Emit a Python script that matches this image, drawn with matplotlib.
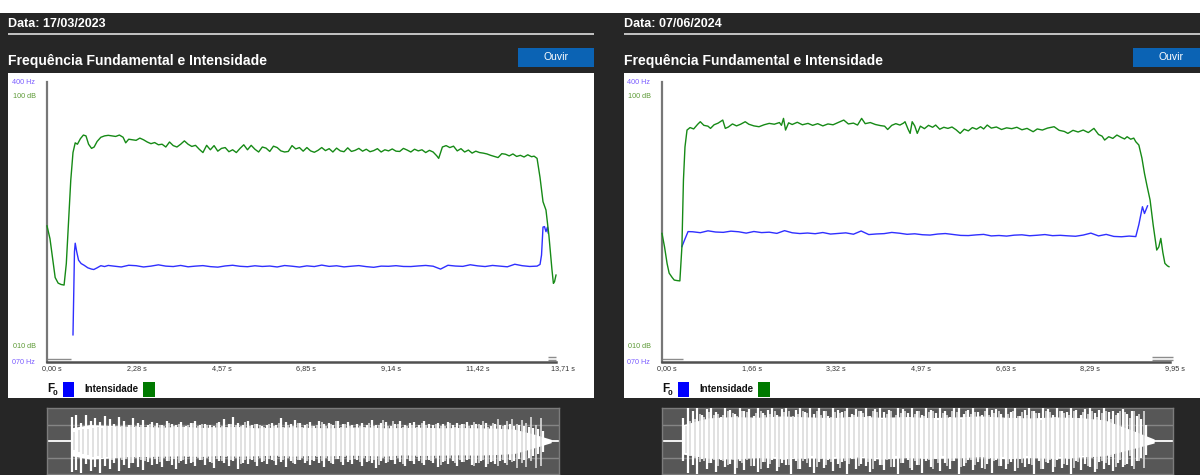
import numpy as np
import matplotlib
matplotlib.use("Agg")
import matplotlib.pyplot as plt
from matplotlib.patches import Rectangle
from matplotlib.transforms import ScaledTranslation

plt.rcParams['font.family'] = ['Liberation Sans', 'DejaVu Sans']

# ------------------------------------------------------------------ data
dates = ["Data: 17/03/2023", "Data: 07/06/2024"]
title = "Frequência Fundamental e Intensidade"
button_label = "Ouvir"
durations = [13.71, 9.95]
xtick_labels_left = ["0,00 s", "2,28 s", "4,57 s", "6,85 s", "9,14 s", "11,42 s", "13,71 s"]
xtick_labels_right = ["0,00 s", "1,66 s", "3,32 s", "4,97 s", "6,63 s", "8,29 s", "9,95 s"]
hz_range = [70, 400]
db_range = [10, 100]
hz_labels = ["070 Hz", "400 Hz"]
db_labels = ["010 dB", "100 dB"]
legend_f0 = "F"
legend_int = "Intensidade"

# Intensity (dB) - left recording
int_left_t = [0.00, 0.08, 0.15, 0.22, 0.30, 0.38, 0.46, 0.52, 0.58, 0.64, 0.70, 0.76, 0.82, 0.90, 0.98,
              1.05, 1.12, 1.20, 1.27, 1.35, 1.45, 1.55, 1.65, 1.75, 1.85, 1.95, 2.05, 2.12, 2.20, 2.30,
              2.40, 2.50, 2.60, 2.70, 2.80, 2.90, 3.00, 3.10, 3.20, 3.30, 3.40, 3.50, 3.60, 3.70, 3.80,
              3.90, 4.00, 4.10, 4.20, 4.30, 4.40, 4.50, 4.60, 4.70, 4.80, 4.90, 5.00, 5.10, 5.20, 5.30,
              5.40, 5.50, 5.60, 5.70, 5.80, 5.90, 6.00, 6.10, 6.20, 6.30, 6.40, 6.50, 6.60, 6.70, 6.80,
              6.90, 7.00, 7.10, 7.20, 7.30, 7.40, 7.50, 7.60, 7.70, 7.80, 7.90, 8.00, 8.10, 8.20, 8.30,
              8.40, 8.50, 8.60, 8.70, 8.80, 8.90, 9.00, 9.10, 9.20, 9.30, 9.40, 9.50, 9.60, 9.70, 9.80,
              9.90, 10.00, 10.10, 10.20, 10.30, 10.40, 10.50, 10.55, 10.65, 10.75, 10.85, 10.95, 11.05,
              11.15, 11.25, 11.35, 11.45, 11.55, 11.65, 11.75, 11.85, 11.95, 12.05, 12.15, 12.25, 12.35,
              12.45, 12.55, 12.65, 12.75, 12.85, 12.95, 13.05, 13.12, 13.20, 13.28, 13.36, 13.44, 13.52,
              13.60, 13.64, 13.67, 13.71]
int_left_db = [53.6, 49.0, 42.0, 35.0, 33.0, 32.5, 32.3, 40.0, 55.0, 70.0, 80.0, 83.5, 83.0, 85.0, 86.3,
               86.0, 83.0, 81.5, 82.0, 84.0, 85.5, 86.0, 86.2, 86.0, 85.8, 86.3, 85.5, 83.5, 84.8, 84.6,
               84.4, 85.2, 84.6, 83.8, 83.2, 83.6, 82.8, 83.0, 82.0, 83.8, 82.5, 82.0, 83.0, 84.2, 83.0,
               82.2, 82.6, 81.2, 80.0, 82.6, 81.0, 82.5, 80.5, 81.5, 81.8, 80.3, 81.0, 80.0, 81.5, 82.8,
               81.0, 82.6, 81.2, 80.2, 82.0, 81.6, 80.4, 82.3, 81.8, 80.6, 80.2, 80.4, 82.5, 81.3, 81.8,
               80.5, 81.8, 80.6, 80.1, 80.8, 81.8, 80.7, 81.4, 80.2, 81.6, 80.6, 80.3, 81.7, 80.4, 80.8,
               81.5, 80.5, 81.2, 80.3, 80.7, 81.4, 80.2, 81.0, 80.6, 81.3, 80.5, 80.4, 81.5, 80.9, 80.2,
               81.2, 80.6, 81.0, 80.0, 80.8, 80.2, 78.8, 77.9, 82.0, 82.5, 81.8, 82.3, 80.6,
               81.4, 80.2, 80.9, 79.8, 80.5, 80.0, 79.8, 79.5, 79.0, 78.6, 78.2, 79.6, 79.4,
               78.8, 79.5, 78.6, 79.0, 78.4, 79.2, 78.5, 78.7, 77.9, 71.0, 62.3, 59.3, 50.0,
               38.0, 32.9, 33.5, 35.9]

# F0 (Hz) - left recording
f0_left_t = ([0.70, 0.72, 0.74, 0.76, 0.80, 0.85, 0.92, 1.00, 1.10, 1.20, 1.26, 1.35, 1.45, 1.55, 1.65]
             + list(np.round(np.arange(1.8, 13.21, 0.2), 2))
             + [13.28, 13.32, 13.36, 13.40, 13.44, 13.48, 13.50])
f0_left_hz = ([102, 150, 200, 210, 200, 190, 186, 184, 181, 179.5, 179, 181, 183.5, 182.5, 183.8]
              + [183, 182, 184, 183.5, 182, 183, 184.5, 183, 182.5, 183.8,
                 182.2, 183, 183.6, 182.4, 181.8, 183.2, 184, 182.8, 182.3, 183.4,
                 182.6, 183.1, 182, 183.7, 182.9, 181.9, 183.3, 182.5, 184.2, 182.7,
                 183.4, 182.1, 182.9, 183.6, 182.4, 181.6, 183, 182.8, 183.5, 182.6,
                 182.5, 183.2, 183.8, 182.9, 179.5, 184, 183.1, 182.7, 184.6, 183.3,
                 182.5, 183.8, 183, 182.2, 185.2, 183.5, 182.6, 183]
              + [185, 196, 229, 229.6, 223.6, 229, 222])

# Intensity (dB) - right recording
int_right_t = [0.00, 0.05, 0.10, 0.14, 0.20, 0.24, 0.30, 0.35, 0.39, 0.42, 0.45, 0.49, 0.55, 0.62, 0.70,
               0.75, 0.82, 0.90, 0.95, 1.02, 1.10, 1.19, 1.24, 1.30, 1.38, 1.46, 1.54, 1.63, 1.70, 1.80,
               1.90, 2.00, 2.10, 2.20, 2.30, 2.34, 2.38, 2.42, 2.48, 2.55, 2.65, 2.75, 2.86, 2.95, 3.05,
               3.15, 3.25, 3.35, 3.45, 3.56, 3.65, 3.75, 3.83, 3.91, 3.98, 4.08, 4.18, 4.28, 4.36, 4.42,
               4.50, 4.58, 4.66, 4.73, 4.76, 4.82, 4.86, 4.90, 4.95, 5.00, 5.06, 5.14, 5.22, 5.30, 5.36,
               5.44, 5.52, 5.60, 5.68, 5.76, 5.84, 5.92, 6.00, 6.08, 6.16, 6.24, 6.30, 6.37, 6.45, 6.55,
               6.65, 6.75, 6.85, 6.95, 7.05, 7.15, 7.27, 7.35, 7.45, 7.55, 7.68, 7.78, 7.88, 7.95, 8.05,
               8.15, 8.25, 8.35, 8.46, 8.55, 8.62, 8.67, 8.75, 8.83, 8.91, 9.00, 9.06, 9.11, 9.18, 9.24,
               9.28, 9.34, 9.40, 9.45, 9.50, 9.56, 9.62, 9.69, 9.73, 9.77, 9.81, 9.85, 9.90, 9.93]
int_right_db = [50.9, 46.0, 40.0, 36.6, 35.0, 34.1, 33.9, 33.8, 46.1, 70.1, 82.0, 88.1, 89.0, 88.5, 90.2,
                91.1, 89.8, 89.5, 88.7, 90.0, 90.6, 91.7, 88.7, 89.2, 90.3, 89.6, 90.2, 91.1, 90.2, 89.6,
                89.3, 90.0, 90.5, 90.2, 90.8, 89.8, 92.3, 88.1, 90.7, 90.1, 90.9, 90.0, 90.5, 89.8, 90.4,
                89.6, 90.3, 90.0, 90.8, 91.7, 90.3, 90.6, 89.9, 92.3, 90.4, 90.8, 90.1, 89.7, 89.5, 88.3,
                89.8, 90.4, 89.9, 90.6, 91.1, 88.4, 86.9, 91.1, 89.6, 86.9, 89.5, 88.6, 89.8, 89.1, 89.9,
                88.4, 89.1, 88.7, 89.2, 88.2, 86.9, 88.4, 87.8, 89.0, 88.4, 89.3, 88.5, 89.9, 88.8, 89.2,
                88.3, 88.9, 88.6, 89.1, 88.2, 88.7, 87.5, 88.5, 88.1, 88.8, 89.3, 88.0, 87.6, 86.9, 88.0,
                87.4, 88.1, 87.2, 88.7, 86.5, 85.9, 84.5, 85.7, 85.1, 86.3, 85.4, 84.9, 85.7, 84.8, 85.2,
                83.9, 82.7, 78.0, 72.5, 68.0, 62.9, 54.0, 44.9, 46.0, 49.1, 44.0, 40.1, 39.2, 38.9]

# F0 (Hz) - right recording
f0_right_t = ([0.39, 0.45, 0.51]
              + list(np.round(np.arange(0.6, 9.21, 0.15), 2))
              + [9.28, 9.34, 9.41, 9.45, 9.51])
f0_right_hz = ([206, 215, 223.7]
               + [223.5, 222.4, 224.6, 223.2, 222.8, 224.2, 223.5, 221.9, 223.8, 222.5,
                  223.0, 221.6, 224.8, 222.3, 221.4, 222.0, 221.2, 222.6, 220.8, 221.5,
                  222.2, 220.6, 224.4, 220.2, 220.9, 221.3, 222.7, 221.8, 220.5, 221.1,
                  220.0, 219.6, 220.8, 221.4, 220.3, 219.2, 219.0, 219.8, 220.4, 218.6,
                  219.1, 218.4, 219.5, 219.9, 218.8, 219.4, 220.2, 218.9, 219.3, 218.7,
                  218.2, 219.6, 221.9, 218.6, 220.4, 218.0, 217.6, 218.4]
               + [217.8, 232, 253, 245, 254])

# Waveform envelopes (fraction of full scale)
wave_left_span = [0.66, 13.36, 13.58]      # burst start, burst end, fade end (s)
wave_left_core_hi = [0.40, 0.50, 0.47, 0.45, 0.44, 0.42, 0.45, 0.41, 0.43, 0.44, 0.40, 0.42, 0.43, 0.41,
                     0.40, 0.42, 0.43, 0.40, 0.41, 0.42, 0.40, 0.41, 0.40, 0.39, 0.36, 0.22, 0.05]
wave_left_core_lo = [0.45, 0.55, 0.52, 0.48, 0.47, 0.46, 0.45, 0.47, 0.44, 0.46, 0.45, 0.43, 0.46, 0.44,
                     0.45, 0.43, 0.44, 0.46, 0.42, 0.44, 0.43, 0.42, 0.43, 0.41, 0.38, 0.22, 0.05]
wave_left_up = [0.72, 0.78, 0.55, 0.80, 0.62, 0.70, 0.58, 0.75, 0.66, 0.52,
                0.74, 0.60, 0.48, 0.69, 0.56, 0.63, 0.50, 0.58, 0.54, 0.47,
                0.61, 0.52, 0.49, 0.57, 0.45, 0.55, 0.60, 0.48, 0.53, 0.50,
                0.46, 0.58, 0.66, 0.51, 0.72, 0.55, 0.49, 0.62, 0.47, 0.52,
                0.45, 0.50, 0.56, 0.48, 0.69, 0.58, 0.51, 0.63, 0.54, 0.49,
                0.57, 0.46, 0.60, 0.52, 0.55, 0.48, 0.62, 0.51, 0.58, 0.47,
                0.53, 0.56, 0.50, 0.63, 0.49, 0.54, 0.58, 0.46, 0.52, 0.60,
                0.48, 0.55, 0.57, 0.50, 0.61, 0.53, 0.47, 0.56, 0.52, 0.59,
                0.49, 0.54, 0.51, 0.57, 0.48, 0.53, 0.50, 0.55, 0.46, 0.52,
                0.49, 0.47, 0.51, 0.45, 0.48, 0.44, 0.42, 0.40, 0.36, 0.30]
wave_left_dn = [0.95, 0.88, 0.97, 0.70, 0.92, 0.80, 0.96, 0.75, 0.85, 0.68,
                0.90, 0.72, 0.82, 0.66, 0.78, 0.88, 0.64, 0.74, 0.69, 0.80,
                0.62, 0.73, 0.85, 0.60, 0.70, 0.66, 0.77, 0.58, 0.72, 0.64,
                0.81, 0.62, 0.68, 0.75, 0.60, 0.84, 0.66, 0.71, 0.59, 0.76,
                0.63, 0.69, 0.57, 0.74, 0.65, 0.80, 0.61, 0.70, 0.58, 0.67,
                0.73, 0.60, 0.66, 0.78, 0.62, 0.69, 0.56, 0.72, 0.64, 0.70,
                0.59, 0.75, 0.63, 0.68, 0.82, 0.61, 0.66, 0.57, 0.71, 0.64,
                0.77, 0.60, 0.69, 0.62, 0.74, 0.58, 0.67, 0.80, 0.63, 0.70,
                0.61, 0.76, 0.65, 0.59, 0.72, 0.66, 0.62, 0.78, 0.64, 0.69,
                0.60, 0.66, 0.58, 0.62, 0.55, 0.57, 0.50, 0.46, 0.40, 0.32]

wave_right_span = [0.42, 9.48, 9.64]
wave_right_core_hi = [0.50, 0.70, 0.74, 0.72, 0.76, 0.73, 0.71, 0.75, 0.72, 0.74,
                      0.71, 0.73, 0.76, 0.72, 0.70, 0.73, 0.71, 0.64, 0.36, 0.06]
wave_right_core_lo = [0.40, 0.52, 0.55, 0.50, 0.54, 0.51, 0.53, 0.49, 0.55, 0.50,
                      0.53, 0.51, 0.48, 0.54, 0.50, 0.53, 0.49, 0.45, 0.26, 0.06]
wave_right_up = [0.70, 1.00, 0.92, 1.00, 0.78, 0.96, 1.00, 0.88, 0.74, 1.00,
                 0.95, 0.82, 1.00, 0.90, 0.98, 0.76, 1.00, 0.86, 0.93, 1.00,
                 0.80, 0.97, 1.00, 0.72, 0.94, 1.00, 0.89, 0.99, 0.83, 1.00,
                 0.91, 0.77, 1.00, 0.95, 0.87, 1.00, 0.81, 0.98, 0.92, 1.00,
                 0.75, 0.96, 1.00, 0.88, 0.93, 0.70, 1.00, 0.97, 0.85, 1.00,
                 0.90, 0.79, 1.00, 0.94, 0.86, 1.00, 0.92, 0.74, 0.99, 1.00,
                 0.83, 0.95, 1.00, 0.89, 0.78, 1.00, 0.93, 0.97, 0.81, 1.00,
                 0.88, 1.00, 0.76, 0.94, 1.00, 0.90, 0.85, 1.00, 0.96, 0.80,
                 1.00, 0.91, 0.87, 1.00, 0.93, 0.79, 0.98, 1.00, 0.84, 0.95,
                 1.00, 0.89, 0.92, 0.86, 0.97, 0.82, 0.90, 0.75, 0.66, 0.50]
wave_right_dn = [0.60, 0.98, 0.72, 1.00, 0.55, 0.85, 0.66, 0.93, 0.58, 0.80,
                 0.70, 1.00, 0.62, 0.88, 0.52, 0.76, 0.95, 0.64, 0.83, 0.57,
                 0.91, 0.68, 0.74, 1.00, 0.60, 0.86, 0.54, 0.79, 0.97, 0.65,
                 0.82, 0.58, 0.90, 0.71, 0.63, 1.00, 0.56, 0.84, 0.69, 0.77,
                 0.94, 0.61, 0.73, 0.88, 0.53, 0.80, 1.00, 0.66, 0.59, 0.87,
                 0.72, 0.96, 0.62, 0.78, 0.55, 0.91, 0.68, 0.84, 0.60, 1.00,
                 0.75, 0.57, 0.89, 0.64, 0.81, 0.70, 0.98, 0.58, 0.76, 0.86,
                 0.63, 0.92, 0.55, 0.79, 0.71, 1.00, 0.60, 0.85, 0.67, 0.94,
                 0.57, 0.82, 0.74, 0.99, 0.62, 0.88, 0.69, 0.78, 0.95, 0.64,
                 0.86, 0.72, 0.90, 0.66, 0.80, 0.70, 0.75, 0.60, 0.52, 0.42]

# ------------------------------------------------------------------ layout
W, H = 1200, 475
DARK = '#262626'
GREEN = '#168a16'
BLUE = '#2f2fff'

fig = plt.figure(figsize=(W / 100, H / 100), dpi=100)
fig.patch.set_facecolor(DARK)

bg = fig.add_axes([0, 0, 1, 1])
bg.set_xlim(0, W)
bg.set_ylim(H, 0)
bg.axis('off')
bg.add_patch(Rectangle((0, 0), W, 13, color='white', lw=0))


def px_axes(x0, y0, x1, y1, **kw):
    return fig.add_axes([x0 / W, 1 - y1 / H, (x1 - x0) / W, (y1 - y0) / H], **kw)


panels = [
    dict(tx=8, line_x1=594, btn=(518, 594), panel=(8, 594), ax=(47, 556), frame=(47, 559),
         dur=durations[0], date=dates[0], xt=xtick_labels_left,
         int_t=int_left_t, int_v=int_left_db, f0_t=f0_left_t, f0_v=f0_left_hz,
         wspan=wave_left_span, core_hi=wave_left_core_hi, core_lo=wave_left_core_lo,
         wup=wave_left_up, wdn=wave_left_dn,
         marks=[(47, 71, [358.5]), (548, 556, [357, 360])]),
    dict(tx=624, line_x1=1200, btn=(1133, 1210), panel=(624, 1205), ax=(662, 1170), frame=(662, 1173),
         dur=durations[1], date=dates[1], xt=xtick_labels_right,
         int_t=int_right_t, int_v=int_right_db, f0_t=f0_right_t, f0_v=f0_right_hz,
         wspan=wave_right_span, core_hi=wave_right_core_hi, core_lo=wave_right_core_lo,
         wup=wave_right_up, wdn=wave_right_dn,
         marks=[(662, 683, [358.5]), (1152, 1173, [357, 360])]),
]

AX_TOP, AX_BOT = 82, 362
db_per_px = (db_range[1] - db_range[0]) / (347 - 97)
db_lo = db_range[0] - (AX_BOT - 347) * db_per_px
db_hi = db_range[1] + (97 - AX_TOP) * db_per_px

for p in panels:
    # header
    bg.text(p['tx'], 24, p['date'], color='white', fontsize=9, fontweight='bold', va='center', ha='left')
    bg.plot([p['tx'], p['line_x1']], [34, 34], color='#d0d0d0', lw=1.3, solid_capstyle='butt')
    bg.text(p['tx'], 61, title, color='white', fontsize=10.1, fontweight='bold', va='center', ha='left')
    b0, b1 = p['btn']
    bg.add_patch(Rectangle((b0, 48), b1 - b0, 19, color='#0b63b4', lw=0))
    bg.text(min((b0 + b1) / 2, b0 + 38), 57.5, button_label, color='white', fontsize=7.5,
            va='center', ha='center')
    # white panel
    pa, pb = p['panel']
    bg.add_patch(Rectangle((pa, 73), pb - pa, 398 - 73, color='white', lw=0))
    # scroll marks
    for (m0, m1, ys) in p['marks']:
        for yy in ys:
            bg.plot([m0, m1], [yy, yy], color='#8c8c8c', lw=1.0, solid_capstyle='butt')

    # legend
    x0a = p['ax'][0]
    bg.text(x0a, 388.5, legend_f0, color='#111111', fontsize=8.5, fontweight='bold', va='center', ha='left')
    bg.text(x0a + 6, 393.5, "0", color='#111111', fontsize=6, fontweight='bold', va='center', ha='left')
    bg.add_patch(Rectangle((x0a + 16, 382), 11, 15, color='#0000ff', lw=0))
    bg.text(x0a + 37, 388.5, legend_int, color='#111111', fontsize=7, fontweight='bold',
            va='center', ha='left')
    bg.add_patch(Rectangle((x0a + 96, 382), 12, 15, color='#007a00', lw=0))

    # data axes
    xa, xb = p['ax']
    ax = px_axes(xa, AX_TOP, xb, AX_BOT)
    ax.set_facecolor('none')
    ax.set_xlim(0, p['dur'])
    ax.set_ylim(hz_range[0], hz_range[1])
    ax2 = ax.twinx()
    ax2.set_ylim(db_lo, db_hi)
    for s in ['top', 'right']:
        ax.spines[s].set_visible(False)
    for s in ax2.spines.values():
        s.set_visible(False)
    ax.spines['left'].set_color('#777777')
    ax.spines['left'].set_linewidth(1.6)
    ax.spines['bottom'].set_color('#505050')
    ax.spines['bottom'].set_linewidth(1.8)
    ax.set_yticks([])
    ax2.set_yticks([])
    ax.set_xticks(np.linspace(0, p['dur'], 7))
    ax.set_xticklabels(p['xt'])
    ax.tick_params(axis='x', length=0, pad=2.2, labelsize=5.2, labelcolor='#333333')
    for lbl in ax.get_xticklabels():
        lbl.set_ha('left')
        lbl.set_transform(lbl.get_transform() + ScaledTranslation(-5 / 100, 0, fig.dpi_scale_trans))

    ax2.plot(p['int_t'], p['int_v'], color=GREEN, lw=1.0, clip_on=False)
    ax.plot(p['f0_t'], p['f0_v'], color=BLUE, lw=1.0, clip_on=False)

    # axis range labels
    for val, txt in zip(hz_range, hz_labels):
        ax.annotate(txt, xy=(0, val), xycoords=('axes fraction', 'data'), xytext=(-35, 0),
                    textcoords='offset pixels', fontsize=5.2, color='#7a5cff', va='center', ha='left',
                    annotation_clip=False)
    for val, txt in zip(db_range, db_labels):
        ax2.annotate(txt, xy=(0, val), xycoords=('axes fraction', 'data'), xytext=(-34, 0),
                     textcoords='offset pixels', fontsize=5.2, color='#5c9a35', va='center', ha='left',
                     annotation_clip=False)

    # waveform
    fa, fb = p['frame']
    wv = px_axes(fa, 408, fb, 474)
    wv.set_facecolor('#575757')
    wv.set_xlim(0, p['dur'] * (fb - xa) / (xb - xa))
    wv.set_ylim(-1, 1)
    wv.set_xticks([])
    wv.set_yticks([])
    for s in wv.spines.values():
        s.set_color('#7c7c7c')
        s.set_linewidth(1.0)
    for gy in (-0.5, 0.5):
        wv.axhline(gy, color='#858585', lw=1.0, zorder=1)
    wv.axhline(0, color='white', lw=1.3, zorder=2)
    ws, we, wf = p['wspan']
    ct = np.linspace(ws, wf, len(p['core_hi']))
    wv.fill_between(ct, -np.array(p['core_lo']), np.array(p['core_hi']), color='white', lw=0, zorder=3)
    up = np.array(p['wup'])
    dn = np.array(p['wdn'])
    st = np.linspace(ws, we, len(up))
    wv.vlines(st, -dn, up, color='white', lw=1.6, zorder=3)
    st2 = st + (st[1] - st[0]) / 2
    wv.vlines(st2[:-1], -dn[::-1][:-1] * 0.85, up[::-1][:-1] * 0.9, color='#dcdcdc', lw=1.2, zorder=3)

fig.savefig('out.png', dpi=100, facecolor=DARK)
